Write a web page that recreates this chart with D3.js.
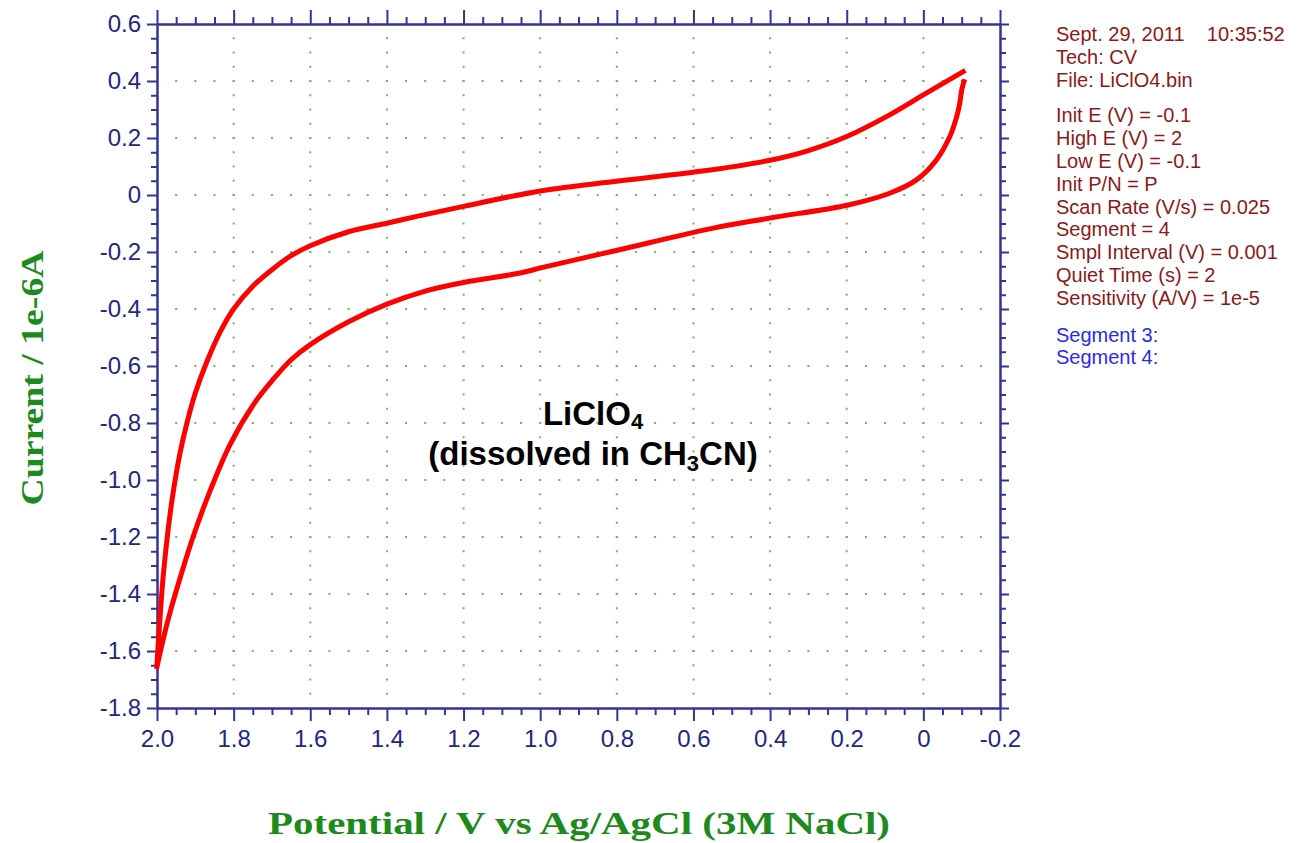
<!DOCTYPE html>
<html lang="en">
<head>
  <meta charset="UTF-8">
  <title>LiClO4 CV</title>
  <style>
    body { margin: 0; background: #fff; }
    svg { display: block; }
    .axis path, .axis line { stroke: #33339a; stroke-width: 2px; }
    .axis text { fill: #22277f; font-family: "Liberation Sans", Arial, sans-serif; font-size: 24px; }
    .info { font-family: "Liberation Sans", Arial, sans-serif; font-size: 20px; fill: #8b1a1a; }
    .seg { fill: #2a2af0; }
    .title { font-family: "Liberation Serif", "Times New Roman", serif; font-weight: bold; font-size: 32px; fill: #1c8a1c; }
  </style>
</head>
<body>
  <svg id="chart" width="1301" height="843"></svg>

  <script src="https://d3js.org/d3.v7.min.js"></script>

  <script>
    // segment 4 (upper branch), potential V / current 1e-6 A
    const upperV = [2.000, 1.993, 1.984, 1.971, 1.958, 1.940, 1.920, 1.900, 1.870, 1.835, 1.800, 1.750, 1.700, 1.650, 1.600, 1.500, 1.400, 1.325, 1.197, 0.996, 0.796, 0.577, 0.400, 0.302, 0.200, 0.088, 0.000, -0.104];
    const upperI = [-1.645, -1.500, -1.340, -1.175, -1.045, -0.906, -0.790, -0.695, -0.585, -0.480, -0.400, -0.320, -0.262, -0.213, -0.178, -0.129, -0.099, -0.076, -0.039, 0.015, 0.049, 0.084, 0.122, 0.155, 0.205, 0.281, 0.351, 0.433];

    // segment 3 (lower branch)
    const lowerV = [-0.106, -0.100, -0.095, -0.087, -0.069, -0.034, 0.018, 0.088, 0.196, 0.396, 0.551, 0.796, 0.996, 1.049, 1.197, 1.300, 1.400, 1.500, 1.600, 1.650, 1.700, 1.744, 1.809, 1.862, 1.906, 1.940, 1.967, 1.984, 2.000];
    const lowerI = [0.398, 0.368, 0.322, 0.275, 0.205, 0.123, 0.053, 0.006, -0.035, -0.080, -0.117, -0.193, -0.255, -0.273, -0.306, -0.337, -0.383, -0.445, -0.525, -0.578, -0.652, -0.727, -0.875, -1.040, -1.200, -1.345, -1.470, -1.560, -1.655];

    const xTicks = [2.0, 1.8, 1.6, 1.4, 1.2, 1.0, 0.8, 0.6, 0.4, 0.2, 0, -0.2];
    const yTicks = [0.6, 0.4, 0.2, 0, -0.2, -0.4, -0.6, -0.8, -1.0, -1.2, -1.4, -1.6, -1.8];

    const infoLines = [
      'Sept. 29, 2011\u00a0\u00a0\u00a0 10:35:52',
      'Tech: CV',
      'File: LiClO4.bin',
      '',
      'Init E (V) = -0.1',
      'High E (V) = 2',
      'Low E (V) = -0.1',
      'Init P/N = P',
      'Scan Rate (V/s) = 0.025',
      'Segment = 4',
      'Smpl Interval (V) = 0.001',
      'Quiet Time (s) = 2',
      'Sensitivity (A/V) = 1e-5'
    ];
    const segLines = ['Segment 3:', 'Segment 4:'];

    const svg = d3.select('#chart');
    const pLeft = 157, pRight = 1000, pTop = 24, pBottom = 708;

    const x = d3.scaleLinear().domain([2.0, -0.2]).range([pLeft, pRight]);
    const y = d3.scaleLinear().domain([0.6, -1.8]).range([pTop, pBottom]);

    // plain hyphen for negatives, "0" for zero
    const fmt = d => d === 0 ? '0' : d.toFixed(1);

    // minor tick values (every 0.05)
    const xMinor = d3.range(0, 45).map(i => +(2.0 - i * 0.05).toFixed(2)).filter(v => !xTicks.some(t => Math.abs(t - v) < 1e-6));
    const yMinor = d3.range(0, 49).map(i => +(0.6 - i * 0.05).toFixed(2)).filter(v => !yTicks.some(t => Math.abs(t - v) < 1e-6));

    // grid dots
    const grid = svg.append('g');
    const gx = xTicks.filter(v => v < 2.0 && v > -0.2);
    const gy = yTicks.filter(v => v < 0.6 && v > -1.8);
    const allX = d3.range(1, 44).map(i => +(2.0 - i * 0.05).toFixed(2));
    const allY = d3.range(1, 48).map(i => +(0.6 - i * 0.05).toFixed(2));
    gy.forEach(yv => {
      allX.forEach(xv => {
        grid.append('rect').attr('x', x(xv) - 1).attr('y', y(yv) - 1).attr('width', 2).attr('height', 2).attr('fill', '#7fb05f');
      });
    });
    gx.forEach(xv => {
      allY.forEach(yv => {
        grid.append('rect').attr('x', x(xv) - 1).attr('y', y(yv) - 1).attr('width', 2).attr('height', 2).attr('fill', '#7fb05f');
      });
    });

    // axes
    svg.append('g').attr('class', 'axis').attr('transform', `translate(0,${pBottom})`)
      .call(d3.axisBottom(x).tickValues(xTicks).tickFormat(fmt).tickSize(13).tickSizeOuter(0).tickPadding(9));
    svg.append('g').attr('class', 'axis').attr('transform', `translate(0,${pBottom})`)
      .call(d3.axisBottom(x).tickValues(xMinor).tickFormat('').tickSize(7).tickSizeOuter(0));
    svg.append('g').attr('class', 'axis').attr('transform', `translate(0,${pTop})`)
      .call(d3.axisTop(x).tickValues(xTicks).tickFormat('').tickSize(14).tickSizeOuter(0));
    svg.append('g').attr('class', 'axis').attr('transform', `translate(0,${pTop})`)
      .call(d3.axisTop(x).tickValues(xMinor).tickFormat('').tickSize(7).tickSizeOuter(0));

    svg.append('g').attr('class', 'axis').attr('transform', `translate(${pLeft},0)`)
      .call(d3.axisLeft(y).tickValues(yTicks).tickFormat(fmt).tickSize(10).tickSizeOuter(0).tickPadding(6));
    svg.append('g').attr('class', 'axis').attr('transform', `translate(${pLeft},0)`)
      .call(d3.axisLeft(y).tickValues(yMinor).tickFormat('').tickSize(6).tickSizeOuter(0));
    svg.append('g').attr('class', 'axis').attr('transform', `translate(${pRight},0)`)
      .call(d3.axisRight(y).tickValues(yTicks).tickFormat('').tickSize(9).tickSizeOuter(0));
    svg.append('g').attr('class', 'axis').attr('transform', `translate(${pRight},0)`)
      .call(d3.axisRight(y).tickValues(yMinor).tickFormat('').tickSize(6).tickSizeOuter(0));

    // curves
    const line = d3.line().x(d => x(d[0])).y(d => y(d[1])).curve(d3.curveCatmullRom.alpha(0.5));
    const upper = upperV.map((v, i) => [v, upperI[i]]);
    const lower = lowerV.map((v, i) => [v, lowerI[i]]);
    [upper, lower].forEach(pts => {
      svg.append('path').datum(pts).attr('d', line)
        .attr('fill', 'none').attr('stroke', '#ff0000').attr('stroke-width', 5)
        .attr('stroke-linejoin', 'round').attr('stroke-linecap', 'square');
    });

    // annotation
    const ann = svg.append('text').attr('text-anchor', 'middle')
      .attr('font-family', '"Liberation Sans", Arial, sans-serif').attr('font-weight', 'bold').attr('font-size', 33).attr('fill', '#000');
    const l1 = ann.append('tspan').attr('x', 593).attr('y', 425);
    l1.append('tspan').text('LiClO');
    l1.append('tspan').attr('font-size', 22).attr('dy', 4).text('4');
    const l2 = ann.append('tspan').attr('x', 593).attr('y', 465);
    l2.append('tspan').text('(dissolved in CH');
    l2.append('tspan').attr('font-size', 22).attr('dy', 6).text('3');
    l2.append('tspan').attr('dy', -6).text('CN)');

    // info panel
    let yy = 41;
    infoLines.forEach(t => {
      if (t === '') { yy += 13; return; }
      svg.append('text').attr('class', 'info').attr('x', 1056).attr('y', yy).text(t);
      yy += 22.8;
    });
    yy += 14;
    segLines.forEach(t => {
      svg.append('text').attr('class', 'info seg').attr('x', 1056).attr('y', yy).text(t);
      yy += 22.8;
    });

    // axis titles
    svg.append('text').attr('class', 'title').attr('x', 579).attr('y', 834).attr('text-anchor', 'middle')
      .attr('textLength', 622).attr('lengthAdjust', 'spacingAndGlyphs')
      .text('Potential / V vs Ag/AgCl (3M NaCl)');
    svg.append('text').attr('class', 'title').attr('transform', 'translate(43,378) rotate(-90)').attr('text-anchor', 'middle')
      .attr('textLength', 255).attr('lengthAdjust', 'spacingAndGlyphs')
      .text('Current / 1e-6A');
  </script>
</body>
</html>
